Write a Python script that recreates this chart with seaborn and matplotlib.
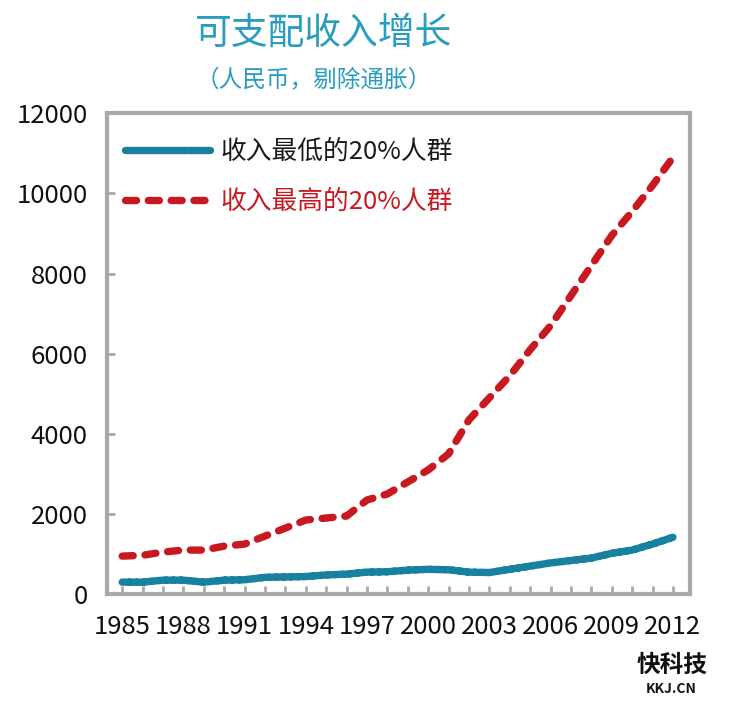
import numpy as np
import pandas as pd
import seaborn as sns
import matplotlib.pyplot as plt

# data (yuan, inflation removed)
years = list(range(1985, 2013))
lowest_20 = [300, 300, 350, 350, 300, 350, 360, 420, 430, 440, 480, 500, 550, 560,
             600, 620, 610, 550, 540, 620, 700, 780, 840, 900, 1020, 1100, 1250, 1420]
highest_20 = [950, 970, 1050, 1100, 1100, 1200, 1250, 1450, 1650, 1850, 1900, 1950, 2350, 2500,
              2800, 3100, 3500, 4350, 4900, 5450, 6100, 6700, 7450, 8200, 8950, 9550, 10200, 10900]
labels = ['收入最低的20%人群', '收入最高的20%人群']
xticks = list(range(1985, 2013, 3))
yticks = list(range(0, 12001, 2000))

sns.set_style('white')
plt.rcParams['font.family'] = ['Noto Sans CJK SC', 'DejaVu Sans']

blue = '#17819f'
red = '#c81820'
teal = '#2a9cc0'
grey = '#a9a9a9'

df = pd.DataFrame({'year': years + years,
                   'income': lowest_20 + highest_20,
                   'group': [labels[0]] * len(years) + [labels[1]] * len(years)})

fig = plt.figure(figsize=(7.3, 7.04), dpi=100)
ax = fig.add_axes([0.147, 0.156, 0.798, 0.683])

sns.lineplot(data=df, x='year', y='income', hue='group', style='group',
             palette=[blue, red], dashes=[(1, 0), (1.5, 1.6)],
             linewidth=5.3, ax=ax)
for line in ax.lines:
    line.set_dash_capstyle('round')
    line.set_solid_capstyle('round')

ax.set_xlim(1984.27, 2012.83)
ax.set_ylim(0, 12000)
ax.set_xticks(xticks)
ax.set_xticks(years, minor=True)
ax.set_yticks(yticks)
ax.set_xlabel('')
ax.set_ylabel('')

for s in ax.spines.values():
    s.set_color(grey)
    s.set_linewidth(3)
ax.tick_params(axis='both', which='both', direction='in', color=grey, width=2, length=6,
               labelsize=18.5, labelcolor='#111111')
ax.tick_params(axis='x', which='both', bottom=True, pad=14)
ax.tick_params(axis='y', left=True, pad=14)

leg = ax.legend(loc='upper left', frameon=False, fontsize=18.5, handlelength=3.3,
                handletextpad=0.4, labelspacing=0.95, borderaxespad=0.3,
                bbox_to_anchor=(0.0, 0.985))
for txt, c in zip(leg.get_texts(), ['#1a1a1a', red]):
    txt.set_color(c)
for h in leg.legend_handles:
    h.set_linewidth(5.3)

fig.text(0.443, 0.953, '可支配收入增长', ha='center', va='center', fontsize=26.5, color=teal)
fig.text(0.43, 0.886, '（人民币，剔除通胀）', ha='center', va='center', fontsize=17, color=teal)

# watermark
fig.text(0.92, 0.055, '快科技', ha='center', va='center', fontsize=17, fontweight='bold', color='#111111')
fig.text(0.92, 0.022, 'KKJ.CN', ha='center', va='center', fontsize=10, fontweight='bold', color='#111111')

plt.savefig('out.png', dpi=100)
